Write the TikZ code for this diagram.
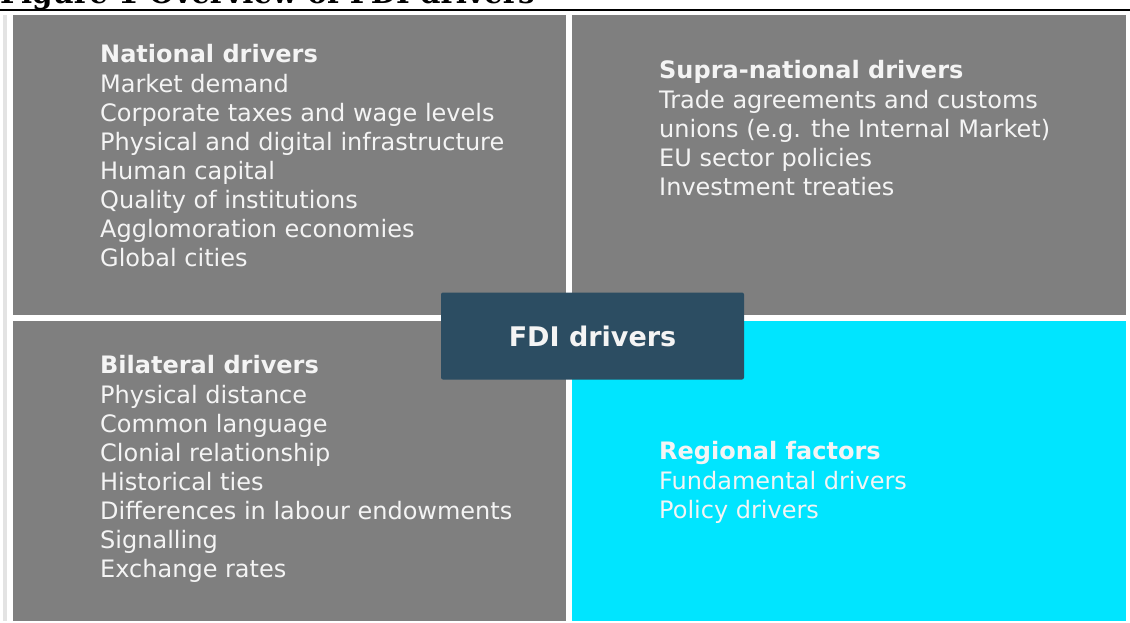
\documentclass[tikz,border=0pt]{standalone}
\usepackage{fontspec}
\setmainfont{DejaVu Sans}
\newfontfamily\titlefont{DejaVu Serif}
\definecolor{boxgrey}{HTML}{7F7F7F}
\definecolor{regioncyan}{HTML}{00E5FF}
\definecolor{hubblue}{HTML}{2C4D62}
\definecolor{edgegrey}{HTML}{E3E3E3}
\definecolor{txt}{HTML}{F4F4F4}
\begin{document}
\begin{tikzpicture}[x=1pt,y=-1pt,
  quad/.style={fill=boxgrey,draw=none},
  listtext/.style={anchor=north west,align=left,text=txt,inner sep=0pt,
    font=\fontsize{24}{29.15}\selectfont},
  hub/.style={fill=hubblue,rounded corners=2pt,minimum width=303pt,minimum height=87pt,
    text=txt,font=\fontsize{27}{30}\selectfont\bfseries,inner sep=0pt}]
\useasboundingbox (0,0) rectangle (1130,622);
\begin{scope}
\clip (0,0) rectangle (1130,622);
\node[anchor=base west,inner sep=0pt,font=\titlefont\fontsize{29.3}{34}\selectfont\bfseries] (title) at (0,3.5) {Figure 1 Overview of FDI drivers};
\end{scope}
\draw[line width=2.2pt] (0,10) -- (1130,10);
\fill[edgegrey] (3,15) rectangle (7,621);
% four quadrants
\fill[quad] (13,15) rectangle (566,315);
\fill[quad] (572,15) rectangle (1126,315);
\fill[quad] (13,321) rectangle (566,621);
\fill[regioncyan] (572,321) rectangle (1126,621);
% quadrant texts
\node[listtext] (national) at (100,44.5) {\textbf{National drivers}\\Market demand\\Corporate taxes and wage levels\\Physical and digital infrastructure\\Human capital\\Quality of institutions\\Agglomoration economies\\Global cities};
\node[listtext] (supra) at (659,60.5) {\textbf{Supra-national drivers}\\Trade agreements and customs\\unions (e.g. the Internal Market)\\EU sector policies\\Investment treaties};
\node[listtext] (bilateral) at (100,355.5) {\textbf{Bilateral drivers}\\Physical distance\\Common language\\Clonial relationship\\Historical ties\\Differences in labour endowments\\Signalling\\Exchange rates};
\node[listtext] (regional) at (659,441.5) {\textbf{Regional factors}\\Fundamental drivers\\Policy drivers};
% central hub
\node[hub] (fdi) at (592.5,336) {FDI drivers};
\end{tikzpicture}
\end{document}
